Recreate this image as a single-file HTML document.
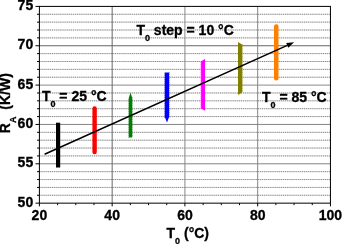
<!DOCTYPE html><html><head><meta charset="utf-8"><title>RA vs T0</title><style>html,body{margin:0;padding:0;background:#fff;overflow:hidden}svg{display:block}text{font-family:"Liberation Sans",Arial,Helvetica,sans-serif;font-weight:bold;fill:#000;stroke:#000;stroke-width:0.3px}</style></head><body>
<svg width="342" height="244" viewBox="0 0 342 244">
<rect width="342" height="244" fill="#fff"/>
<line x1="39.40" x2="330.44" y1="195.28" y2="195.28" stroke="#dcdcdc" stroke-width="1"/>
<line x1="39.40" x2="330.44" y1="195.28" y2="195.28" stroke="#868686" stroke-width="1" stroke-dasharray="1.05 1.05"/>
<line x1="39.40" x2="330.44" y1="187.41" y2="187.41" stroke="#dcdcdc" stroke-width="1"/>
<line x1="39.40" x2="330.44" y1="187.41" y2="187.41" stroke="#868686" stroke-width="1" stroke-dasharray="1.05 1.05"/>
<line x1="39.40" x2="330.44" y1="179.54" y2="179.54" stroke="#dcdcdc" stroke-width="1"/>
<line x1="39.40" x2="330.44" y1="179.54" y2="179.54" stroke="#868686" stroke-width="1" stroke-dasharray="1.05 1.05"/>
<line x1="39.40" x2="330.44" y1="171.67" y2="171.67" stroke="#dcdcdc" stroke-width="1"/>
<line x1="39.40" x2="330.44" y1="171.67" y2="171.67" stroke="#868686" stroke-width="1" stroke-dasharray="1.05 1.05"/>
<line x1="39.40" x2="330.44" y1="163.80" y2="163.80" stroke="#848484" stroke-width="1"/>
<line x1="39.40" x2="330.44" y1="155.93" y2="155.93" stroke="#dcdcdc" stroke-width="1"/>
<line x1="39.40" x2="330.44" y1="155.93" y2="155.93" stroke="#868686" stroke-width="1" stroke-dasharray="1.05 1.05"/>
<line x1="39.40" x2="330.44" y1="148.06" y2="148.06" stroke="#dcdcdc" stroke-width="1"/>
<line x1="39.40" x2="330.44" y1="148.06" y2="148.06" stroke="#868686" stroke-width="1" stroke-dasharray="1.05 1.05"/>
<line x1="39.40" x2="330.44" y1="140.19" y2="140.19" stroke="#dcdcdc" stroke-width="1"/>
<line x1="39.40" x2="330.44" y1="140.19" y2="140.19" stroke="#868686" stroke-width="1" stroke-dasharray="1.05 1.05"/>
<line x1="39.40" x2="330.44" y1="132.32" y2="132.32" stroke="#dcdcdc" stroke-width="1"/>
<line x1="39.40" x2="330.44" y1="132.32" y2="132.32" stroke="#868686" stroke-width="1" stroke-dasharray="1.05 1.05"/>
<line x1="39.40" x2="330.44" y1="124.45" y2="124.45" stroke="#848484" stroke-width="1"/>
<line x1="39.40" x2="330.44" y1="116.58" y2="116.58" stroke="#dcdcdc" stroke-width="1"/>
<line x1="39.40" x2="330.44" y1="116.58" y2="116.58" stroke="#868686" stroke-width="1" stroke-dasharray="1.05 1.05"/>
<line x1="39.40" x2="330.44" y1="108.71" y2="108.71" stroke="#dcdcdc" stroke-width="1"/>
<line x1="39.40" x2="330.44" y1="108.71" y2="108.71" stroke="#868686" stroke-width="1" stroke-dasharray="1.05 1.05"/>
<line x1="39.40" x2="330.44" y1="100.84" y2="100.84" stroke="#dcdcdc" stroke-width="1"/>
<line x1="39.40" x2="330.44" y1="100.84" y2="100.84" stroke="#868686" stroke-width="1" stroke-dasharray="1.05 1.05"/>
<line x1="39.40" x2="330.44" y1="92.97" y2="92.97" stroke="#dcdcdc" stroke-width="1"/>
<line x1="39.40" x2="330.44" y1="92.97" y2="92.97" stroke="#868686" stroke-width="1" stroke-dasharray="1.05 1.05"/>
<line x1="39.40" x2="330.44" y1="85.10" y2="85.10" stroke="#8a8a8a" stroke-width="1"/>
<line x1="39.40" x2="330.44" y1="77.23" y2="77.23" stroke="#dcdcdc" stroke-width="1"/>
<line x1="39.40" x2="330.44" y1="77.23" y2="77.23" stroke="#868686" stroke-width="1" stroke-dasharray="1.05 1.05"/>
<line x1="39.40" x2="330.44" y1="69.36" y2="69.36" stroke="#dcdcdc" stroke-width="1"/>
<line x1="39.40" x2="330.44" y1="69.36" y2="69.36" stroke="#868686" stroke-width="1" stroke-dasharray="1.05 1.05"/>
<line x1="39.40" x2="330.44" y1="61.49" y2="61.49" stroke="#dcdcdc" stroke-width="1"/>
<line x1="39.40" x2="330.44" y1="61.49" y2="61.49" stroke="#868686" stroke-width="1" stroke-dasharray="1.05 1.05"/>
<line x1="39.40" x2="330.44" y1="53.62" y2="53.62" stroke="#dcdcdc" stroke-width="1"/>
<line x1="39.40" x2="330.44" y1="53.62" y2="53.62" stroke="#868686" stroke-width="1" stroke-dasharray="1.05 1.05"/>
<line x1="39.40" x2="330.44" y1="45.75" y2="45.75" stroke="#666666" stroke-width="1"/>
<line x1="39.40" x2="330.44" y1="37.88" y2="37.88" stroke="#dcdcdc" stroke-width="1"/>
<line x1="39.40" x2="330.44" y1="37.88" y2="37.88" stroke="#868686" stroke-width="1" stroke-dasharray="1.05 1.05"/>
<line x1="39.40" x2="330.44" y1="30.01" y2="30.01" stroke="#dcdcdc" stroke-width="1"/>
<line x1="39.40" x2="330.44" y1="30.01" y2="30.01" stroke="#868686" stroke-width="1" stroke-dasharray="1.05 1.05"/>
<line x1="39.40" x2="330.44" y1="22.14" y2="22.14" stroke="#dcdcdc" stroke-width="1"/>
<line x1="39.40" x2="330.44" y1="22.14" y2="22.14" stroke="#868686" stroke-width="1" stroke-dasharray="1.05 1.05"/>
<line x1="39.40" x2="330.44" y1="14.27" y2="14.27" stroke="#dcdcdc" stroke-width="1"/>
<line x1="39.40" x2="330.44" y1="14.27" y2="14.27" stroke="#868686" stroke-width="1" stroke-dasharray="1.05 1.05"/>
<line x1="112.16" x2="112.16" y1="6.40" y2="203.15" stroke="#686868" stroke-width="1"/>
<line x1="184.92" x2="184.92" y1="6.40" y2="203.15" stroke="#888888" stroke-width="1"/>
<line x1="257.68" x2="257.68" y1="6.40" y2="203.15" stroke="#848484" stroke-width="1"/>
<rect x="56.00" y="122.70" width="4.20" height="44.80" fill="#000"/>
<rect x="92.4" y="106.2" width="4.4" height="48.1" rx="2.2" fill="#ff0000"/>
<path d="M128.90 97.50 L130.50 92.40 L132.10 97.50 L133.00 97.50 L132.10 98.70 L132.10 99.50 L133.00 99.50 L132.10 100.70 L132.10 101.50 L133.00 101.50 L132.10 102.70 L132.10 103.50 L133.00 103.50 L132.10 104.70 L132.10 105.50 L133.00 105.50 L132.10 106.70 L132.10 107.50 L133.00 107.50 L132.10 108.70 L132.10 109.50 L133.00 109.50 L132.10 110.70 L132.10 111.50 L133.00 111.50 L132.10 112.70 L132.10 113.50 L133.00 113.50 L132.10 114.70 L132.10 115.50 L133.00 115.50 L132.10 116.70 L132.10 117.50 L133.00 117.50 L132.10 118.70 L132.10 119.50 L133.00 119.50 L132.10 120.70 L132.10 121.50 L133.00 121.50 L132.10 122.70 L132.10 123.50 L133.00 123.50 L132.10 124.70 L132.10 125.50 L133.00 125.50 L132.10 126.70 L132.10 127.50 L133.00 127.50 L132.10 128.70 L132.10 129.50 L133.00 129.50 L132.10 130.70 L132.10 131.50 L133.00 131.50 L132.10 132.70 L132.10 133.50 L133.00 133.50 L132.10 134.70 L132.10 135.50 L133.00 135.50 L132.10 136.70 L132.10 137.40 L133.00 137.40 L128.00 137.40 L128.00 137.40 L128.90 136.20 L128.90 135.40 L128.00 135.40 L128.90 134.20 L128.90 133.40 L128.00 133.40 L128.90 132.20 L128.90 131.40 L128.00 131.40 L128.90 130.20 L128.90 129.40 L128.00 129.40 L128.90 128.20 L128.90 127.40 L128.00 127.40 L128.90 126.20 L128.90 125.40 L128.00 125.40 L128.90 124.20 L128.90 123.40 L128.00 123.40 L128.90 122.20 L128.90 121.40 L128.00 121.40 L128.90 120.20 L128.90 119.40 L128.00 119.40 L128.90 118.20 L128.90 117.40 L128.00 117.40 L128.90 116.20 L128.90 115.40 L128.00 115.40 L128.90 114.20 L128.90 113.40 L128.00 113.40 L128.90 112.20 L128.90 111.40 L128.00 111.40 L128.90 110.20 L128.90 109.40 L128.00 109.40 L128.90 108.20 L128.90 107.40 L128.00 107.40 L128.90 106.20 L128.90 105.40 L128.00 105.40 L128.90 104.20 L128.90 103.40 L128.00 103.40 L128.90 102.20 L128.90 101.40 L128.00 101.40 L128.90 100.20 L128.90 99.40 L128.00 99.40 L128.90 98.20 L128.90 97.50 Z" fill="#008000"/>
<path d="M164.00 72.60 L169.90 72.60 L169.90 72.60 L169.00 73.80 L169.00 74.60 L169.90 74.60 L169.00 75.80 L169.00 76.60 L169.90 76.60 L169.00 77.80 L169.00 78.60 L169.90 78.60 L169.00 79.80 L169.00 80.60 L169.90 80.60 L169.00 81.80 L169.00 82.60 L169.90 82.60 L169.00 83.80 L169.00 84.60 L169.90 84.60 L169.00 85.80 L169.00 86.60 L169.90 86.60 L169.00 87.80 L169.00 88.60 L169.90 88.60 L169.00 89.80 L169.00 90.60 L169.90 90.60 L169.00 91.80 L169.00 92.60 L169.90 92.60 L169.00 93.80 L169.00 94.60 L169.90 94.60 L169.00 95.80 L169.00 96.60 L169.90 96.60 L169.00 97.80 L169.00 98.60 L169.90 98.60 L169.00 99.80 L169.00 100.60 L169.90 100.60 L169.00 101.80 L169.00 102.60 L169.90 102.60 L169.00 103.80 L169.00 104.60 L169.90 104.60 L169.00 105.80 L169.00 106.60 L169.90 106.60 L169.00 107.80 L169.00 108.60 L169.90 108.60 L169.00 109.80 L169.00 110.60 L169.90 110.60 L169.00 111.80 L169.00 112.60 L169.90 112.60 L169.00 113.80 L169.00 114.60 L169.90 114.60 L169.00 115.80 L169.00 116.60 L169.90 116.60 L169.00 117.50 L169.00 117.50 L168.90 117.50 L167.00 122.50 L165.00 117.50 L164.00 117.50 L164.90 116.30 L164.90 115.50 L164.00 115.50 L164.90 114.30 L164.90 113.50 L164.00 113.50 L164.90 112.30 L164.90 111.50 L164.00 111.50 L164.90 110.30 L164.90 109.50 L164.00 109.50 L164.90 108.30 L164.90 107.50 L164.00 107.50 L164.90 106.30 L164.90 105.50 L164.00 105.50 L164.90 104.30 L164.90 103.50 L164.00 103.50 L164.90 102.30 L164.90 101.50 L164.00 101.50 L164.90 100.30 L164.90 99.50 L164.00 99.50 L164.90 98.30 L164.90 97.50 L164.00 97.50 L164.90 96.30 L164.90 95.50 L164.00 95.50 L164.90 94.30 L164.90 93.50 L164.00 93.50 L164.90 92.30 L164.90 91.50 L164.00 91.50 L164.90 90.30 L164.90 89.50 L164.00 89.50 L164.90 88.30 L164.90 87.50 L164.00 87.50 L164.90 86.30 L164.90 85.50 L164.00 85.50 L164.90 84.30 L164.90 83.50 L164.00 83.50 L164.90 82.30 L164.90 81.50 L164.00 81.50 L164.90 80.30 L164.90 79.50 L164.00 79.50 L164.90 78.30 L164.90 77.50 L164.00 77.50 L164.90 76.30 L164.90 75.50 L164.00 75.50 L164.90 74.30 L164.90 73.50 L164.00 73.50 L164.90 72.60 L164.90 72.60 Z" fill="#0000ff"/>
<path d="M201.20 61.30 L205.00 59.00 L205.00 110.70 L201.20 108.40 L200.20 108.40 L201.20 107.20 L201.20 106.40 L200.20 106.40 L201.20 105.20 L201.20 104.40 L200.20 104.40 L201.20 103.20 L201.20 102.40 L200.20 102.40 L201.20 101.20 L201.20 100.40 L200.20 100.40 L201.20 99.20 L201.20 98.40 L200.20 98.40 L201.20 97.20 L201.20 96.40 L200.20 96.40 L201.20 95.20 L201.20 94.40 L200.20 94.40 L201.20 93.20 L201.20 92.40 L200.20 92.40 L201.20 91.20 L201.20 90.40 L200.20 90.40 L201.20 89.20 L201.20 88.40 L200.20 88.40 L201.20 87.20 L201.20 86.40 L200.20 86.40 L201.20 85.20 L201.20 84.40 L200.20 84.40 L201.20 83.20 L201.20 82.40 L200.20 82.40 L201.20 81.20 L201.20 80.40 L200.20 80.40 L201.20 79.20 L201.20 78.40 L200.20 78.40 L201.20 77.20 L201.20 76.40 L200.20 76.40 L201.20 75.20 L201.20 74.40 L200.20 74.40 L201.20 73.20 L201.20 72.40 L200.20 72.40 L201.20 71.20 L201.20 70.40 L200.20 70.40 L201.20 69.20 L201.20 68.40 L200.20 68.40 L201.20 67.20 L201.20 66.40 L200.20 66.40 L201.20 65.20 L201.20 64.40 L200.20 64.40 L201.20 63.20 L201.20 62.40 L200.20 62.40 L201.20 61.30 L201.20 61.30 Z" fill="#ff00ff"/>
<path d="M238.00 42.00 L242.10 44.60 L243.10 44.60 L242.10 45.80 L242.10 46.60 L243.10 46.60 L242.10 47.80 L242.10 48.60 L243.10 48.60 L242.10 49.80 L242.10 50.60 L243.10 50.60 L242.10 51.80 L242.10 52.60 L243.10 52.60 L242.10 53.80 L242.10 54.60 L243.10 54.60 L242.10 55.80 L242.10 56.60 L243.10 56.60 L242.10 57.80 L242.10 58.60 L243.10 58.60 L242.10 59.80 L242.10 60.60 L243.10 60.60 L242.10 61.80 L242.10 62.60 L243.10 62.60 L242.10 63.80 L242.10 64.60 L243.10 64.60 L242.10 65.80 L242.10 66.60 L243.10 66.60 L242.10 67.80 L242.10 68.60 L243.10 68.60 L242.10 69.80 L242.10 70.60 L243.10 70.60 L242.10 71.80 L242.10 72.60 L243.10 72.60 L242.10 73.80 L242.10 74.60 L243.10 74.60 L242.10 75.80 L242.10 76.60 L243.10 76.60 L242.10 77.80 L242.10 78.60 L243.10 78.60 L242.10 79.80 L242.10 80.60 L243.10 80.60 L242.10 81.80 L242.10 82.60 L243.10 82.60 L242.10 83.80 L242.10 84.60 L243.10 84.60 L242.10 85.80 L242.10 86.60 L243.10 86.60 L242.10 87.80 L242.10 88.60 L243.10 88.60 L242.10 89.80 L242.10 90.60 L243.10 90.60 L242.10 91.80 L242.10 92.40 L242.10 92.40 L238.00 95.00 Z" fill="#808000"/>
<rect x="274" y="24.3" width="4.5" height="56.2" rx="2.2" fill="#ff8000"/>
<line x1="44.6" y1="154.3" x2="287.26" y2="45.37" stroke="#000" stroke-width="1.5"/>
<path d="M294.1 42.3 L288.32 47.74 L286.19 43.00 Z" fill="#000"/>
<rect x="39.40" y="6.40" width="291.04" height="196.75" fill="none" stroke="#000" stroke-width="1"/>
<line x1="35.5" x2="39.5" y1="203.15" y2="203.15" stroke="#000" stroke-width="1"/>
<line x1="37" x2="39.5" y1="195.28" y2="195.28" stroke="#000" stroke-width="1"/>
<line x1="37" x2="39.5" y1="187.41" y2="187.41" stroke="#000" stroke-width="1"/>
<line x1="37" x2="39.5" y1="179.54" y2="179.54" stroke="#000" stroke-width="1"/>
<line x1="37" x2="39.5" y1="171.67" y2="171.67" stroke="#000" stroke-width="1"/>
<line x1="35.5" x2="39.5" y1="163.80" y2="163.80" stroke="#000" stroke-width="1"/>
<line x1="37" x2="39.5" y1="155.93" y2="155.93" stroke="#000" stroke-width="1"/>
<line x1="37" x2="39.5" y1="148.06" y2="148.06" stroke="#000" stroke-width="1"/>
<line x1="37" x2="39.5" y1="140.19" y2="140.19" stroke="#000" stroke-width="1"/>
<line x1="37" x2="39.5" y1="132.32" y2="132.32" stroke="#000" stroke-width="1"/>
<line x1="35.5" x2="39.5" y1="124.45" y2="124.45" stroke="#000" stroke-width="1"/>
<line x1="37" x2="39.5" y1="116.58" y2="116.58" stroke="#000" stroke-width="1"/>
<line x1="37" x2="39.5" y1="108.71" y2="108.71" stroke="#000" stroke-width="1"/>
<line x1="37" x2="39.5" y1="100.84" y2="100.84" stroke="#000" stroke-width="1"/>
<line x1="37" x2="39.5" y1="92.97" y2="92.97" stroke="#000" stroke-width="1"/>
<line x1="35.5" x2="39.5" y1="85.10" y2="85.10" stroke="#000" stroke-width="1"/>
<line x1="37" x2="39.5" y1="77.23" y2="77.23" stroke="#000" stroke-width="1"/>
<line x1="37" x2="39.5" y1="69.36" y2="69.36" stroke="#000" stroke-width="1"/>
<line x1="37" x2="39.5" y1="61.49" y2="61.49" stroke="#000" stroke-width="1"/>
<line x1="37" x2="39.5" y1="53.62" y2="53.62" stroke="#000" stroke-width="1"/>
<line x1="35.5" x2="39.5" y1="45.75" y2="45.75" stroke="#000" stroke-width="1"/>
<line x1="37" x2="39.5" y1="37.88" y2="37.88" stroke="#000" stroke-width="1"/>
<line x1="37" x2="39.5" y1="30.01" y2="30.01" stroke="#000" stroke-width="1"/>
<line x1="37" x2="39.5" y1="22.14" y2="22.14" stroke="#000" stroke-width="1"/>
<line x1="37" x2="39.5" y1="14.27" y2="14.27" stroke="#000" stroke-width="1"/>
<line x1="35.5" x2="39.5" y1="6.40" y2="6.40" stroke="#000" stroke-width="1"/>
<line x1="39.40" x2="39.40" y1="203.15" y2="206.35" stroke="#000" stroke-width="1"/>
<line x1="57.59" x2="57.59" y1="203.15" y2="205.15" stroke="#000" stroke-width="1"/>
<line x1="75.78" x2="75.78" y1="203.15" y2="205.15" stroke="#000" stroke-width="1"/>
<line x1="93.97" x2="93.97" y1="203.15" y2="205.15" stroke="#000" stroke-width="1"/>
<line x1="112.16" x2="112.16" y1="203.15" y2="206.35" stroke="#000" stroke-width="1"/>
<line x1="130.35" x2="130.35" y1="203.15" y2="205.15" stroke="#000" stroke-width="1"/>
<line x1="148.54" x2="148.54" y1="203.15" y2="205.15" stroke="#000" stroke-width="1"/>
<line x1="166.73" x2="166.73" y1="203.15" y2="205.15" stroke="#000" stroke-width="1"/>
<line x1="184.92" x2="184.92" y1="203.15" y2="206.35" stroke="#000" stroke-width="1"/>
<line x1="203.11" x2="203.11" y1="203.15" y2="205.15" stroke="#000" stroke-width="1"/>
<line x1="221.30" x2="221.30" y1="203.15" y2="205.15" stroke="#000" stroke-width="1"/>
<line x1="239.49" x2="239.49" y1="203.15" y2="205.15" stroke="#000" stroke-width="1"/>
<line x1="257.68" x2="257.68" y1="203.15" y2="206.35" stroke="#000" stroke-width="1"/>
<line x1="275.87" x2="275.87" y1="203.15" y2="205.15" stroke="#000" stroke-width="1"/>
<line x1="294.06" x2="294.06" y1="203.15" y2="205.15" stroke="#000" stroke-width="1"/>
<line x1="312.25" x2="312.25" y1="203.15" y2="205.15" stroke="#000" stroke-width="1"/>
<line x1="330.44" x2="330.44" y1="203.15" y2="206.35" stroke="#000" stroke-width="1"/>
<text x="33.2" y="206.75" font-size="14" text-anchor="end">50</text>
<text x="33.2" y="167.40" font-size="14" text-anchor="end">55</text>
<text x="33.2" y="128.05" font-size="14" text-anchor="end">60</text>
<text x="33.2" y="88.70" font-size="14" text-anchor="end">65</text>
<text x="33.2" y="49.35" font-size="14" text-anchor="end">70</text>
<text x="33.2" y="10.00" font-size="14" text-anchor="end">75</text>
<text x="39.40" y="220.3" font-size="14" text-anchor="middle">20</text>
<text x="112.16" y="220.3" font-size="14" text-anchor="middle">40</text>
<text x="184.92" y="220.3" font-size="14" text-anchor="middle">60</text>
<text x="257.68" y="220.3" font-size="14" text-anchor="middle">80</text>
<text x="330.44" y="220.3" font-size="14" text-anchor="middle">100</text>
<text x="41.9" y="100.7" font-size="14" >T<tspan font-size="9" dy="6">0</tspan><tspan dy="-6"> = 25 °C</tspan></text>
<text x="136.4" y="34.7" font-size="14" >T<tspan font-size="9" dy="6">0</tspan><tspan dy="-6"> step = 10 °C</tspan></text>
<text x="262.0" y="101.7" font-size="14" >T<tspan font-size="9" dy="6">0</tspan><tspan dy="-6"> = 85 °C</tspan></text>
<text x="166.5" y="237.8" font-size="14" >T<tspan font-size="9" dy="6">0</tspan><tspan dy="-6"> (°C)</tspan></text>
<text transform="translate(10.4,133.2) rotate(-90)" font-size="14">R<tspan font-size="9" dy="6">A</tspan><tspan dy="-6" dx="3.0"> (K/W)</tspan></text>
</svg></body></html>
